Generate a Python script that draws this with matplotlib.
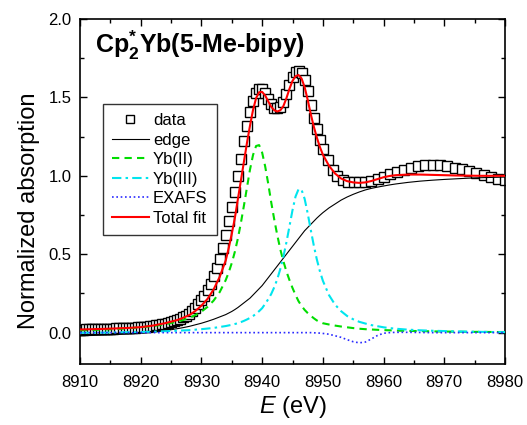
import matplotlib
matplotlib.use("Agg")
import matplotlib.pyplot as plt
from matplotlib.ticker import MultipleLocator

plt.rcParams['font.family'] = ['Liberation Sans', 'DejaVu Sans']
plt.rcParams['mathtext.fontset'] = 'custom'
plt.rcParams['mathtext.rm'] = 'Liberation Sans'
plt.rcParams['mathtext.it'] = 'Liberation Sans:italic'
plt.rcParams['mathtext.bf'] = 'Liberation Sans:bold'

# ---------------- data ----------------
E_data = [8910.0, 8910.5, 8911.0, 8911.5, 8912.0, 8912.5, 8913.0, 8913.5, 8914.0, 8914.5,
          8915.0, 8915.5, 8916.0, 8916.5, 8917.0, 8917.5, 8918.0, 8918.5, 8919.0, 8919.5,
          8920.0, 8920.5, 8921.0, 8921.5, 8922.0, 8922.5, 8923.0, 8923.5, 8924.0, 8924.5,
          8925.0, 8925.5, 8926.0, 8926.5, 8927.0, 8927.5, 8928.0, 8928.5, 8929.0, 8929.5,
          8930.0, 8930.5, 8931.0, 8931.5, 8932.0, 8932.5, 8933.0, 8933.5, 8934.0, 8934.5,
          8935.0, 8935.5, 8936.0, 8936.5, 8937.0, 8937.5, 8938.0, 8938.5, 8939.0, 8939.5,
          8940.0, 8940.5, 8941.0, 8941.5, 8942.0, 8942.5, 8943.0, 8943.5, 8944.0, 8944.5,
          8945.0, 8945.5, 8946.0, 8946.5, 8947.0, 8947.5, 8948.0, 8948.5, 8949.0, 8949.5,
          8950.0, 8950.8, 8951.6, 8952.4, 8953.3, 8954.2, 8955.1, 8956.0, 8957.0, 8958.0,
          8959.0, 8960.0, 8961.1, 8962.2, 8963.3, 8964.5, 8965.7, 8966.9, 8968.1, 8969.3,
          8970.5, 8971.7, 8972.9, 8974.1, 8975.3, 8976.5, 8977.7, 8978.9, 8980.0]
mu_data = [0.020, 0.020, 0.021, 0.021, 0.022, 0.022, 0.023, 0.023, 0.024, 0.024,
           0.025, 0.026, 0.027, 0.027, 0.028, 0.029, 0.030, 0.031, 0.032, 0.033,
           0.035, 0.037, 0.039, 0.041, 0.044, 0.047, 0.050, 0.054, 0.058, 0.063,
           0.068, 0.074, 0.080, 0.088, 0.097, 0.107, 0.120, 0.135, 0.155, 0.180,
           0.205, 0.235, 0.270, 0.310, 0.360, 0.410, 0.470, 0.540, 0.620, 0.710,
           0.800, 0.900, 1.000, 1.110, 1.220, 1.320, 1.410, 1.480, 1.530, 1.555,
           1.555, 1.530, 1.490, 1.455, 1.435, 1.430, 1.440, 1.470, 1.520, 1.580,
           1.630, 1.660, 1.670, 1.655, 1.610, 1.540, 1.450, 1.370, 1.300, 1.230,
           1.170, 1.100, 1.040, 1.000, 0.975, 0.962, 0.958, 0.958, 0.962, 0.970,
           0.982, 0.995, 1.010, 1.025, 1.040, 1.052, 1.061, 1.066, 1.068, 1.066,
           1.060, 1.052, 1.042, 1.030, 1.017, 1.004, 0.992, 0.982, 0.974]

E_fit = [8910, 8912, 8914, 8916, 8918, 8920, 8922, 8924, 8926, 8927, 8928, 8929,
         8930, 8931, 8932, 8933, 8934, 8934.5, 8935, 8935.5, 8936, 8936.5, 8937, 8937.5,
         8938, 8938.5, 8939, 8939.5, 8940, 8940.5, 8941, 8941.5, 8942, 8942.5, 8943, 8943.5,
         8944, 8944.5, 8945, 8945.5, 8946, 8946.5, 8947, 8947.5, 8948, 8948.5, 8949, 8949.5,
         8950, 8951, 8952, 8953, 8954, 8955, 8956, 8957, 8958, 8959, 8960, 8961,
         8962, 8964, 8966, 8968, 8970, 8972, 8974, 8976, 8978, 8980]

edge = [-0.020, -0.018, -0.015, -0.012, -0.008, -0.003, 0.003, 0.012, 0.025, 0.032, 0.040, 0.050,
        0.060, 0.072, 0.085, 0.100, 0.115, 0.125, 0.135, 0.147, 0.160, 0.175, 0.190, 0.205,
        0.220, 0.240, 0.260, 0.280, 0.300, 0.325, 0.350, 0.375, 0.400, 0.425, 0.450, 0.475,
        0.500, 0.525, 0.550, 0.575, 0.600, 0.625, 0.650, 0.670, 0.690, 0.710, 0.730, 0.748,
        0.765, 0.795, 0.820, 0.845, 0.865, 0.882, 0.897, 0.910, 0.920, 0.928, 0.935, 0.942,
        0.948, 0.958, 0.966, 0.972, 0.977, 0.981, 0.985, 0.988, 0.990, 0.992]

yb2 = [0.015, 0.017, 0.020, 0.023, 0.028, 0.034, 0.042, 0.053, 0.070, 0.081, 0.094, 0.112,
       0.134, 0.164, 0.204, 0.258, 0.335, 0.385, 0.444, 0.515, 0.600, 0.700, 0.810, 0.925,
       1.040, 1.133, 1.190, 1.196, 1.148, 1.060, 0.950, 0.830, 0.720, 0.620, 0.530, 0.455,
       0.390, 0.335, 0.285, 0.240, 0.200, 0.170, 0.145, 0.125, 0.108, 0.092, 0.078, 0.068,
       0.060, 0.052, 0.045, 0.039, 0.034, 0.029, 0.025, 0.022, 0.020, 0.018, 0.016, 0.015,
       0.013, 0.011, 0.010, 0.008, 0.007, 0.006, 0.005, 0.005, 0.004, 0.004]

yb3 = [-0.001, 0.000, 0.000, 0.002, 0.003, 0.004, 0.006, 0.009, 0.012, 0.014, 0.016, 0.019,
       0.022, 0.026, 0.030, 0.036, 0.042, 0.046, 0.050, 0.055, 0.060, 0.067, 0.075, 0.084,
       0.094, 0.106, 0.120, 0.137, 0.156, 0.184, 0.213, 0.247, 0.290, 0.342, 0.407, 0.485,
       0.576, 0.678, 0.781, 0.868, 0.915, 0.910, 0.853, 0.761, 0.657, 0.557, 0.468, 0.393,
       0.331, 0.240, 0.179, 0.137, 0.106, 0.085, 0.069, 0.058, 0.048, 0.041, 0.034, 0.029,
       0.025, 0.019, 0.015, 0.012, 0.010, 0.008, 0.006, 0.005, 0.004, 0.003]

exafs = [0.0, 0.0, 0.0, 0.0, 0.0, 0.0, 0.0, 0.0, 0.0, 0.0, 0.0, 0.0,
         0.0, 0.0, 0.0, 0.0, 0.0, 0.0, 0.0, 0.0, 0.0, 0.0, 0.0, 0.0,
         0.0, 0.0, 0.0, 0.0, 0.0, 0.0, 0.0, 0.0, 0.0, 0.0, 0.0, 0.0,
         0.0, 0.0, 0.0, 0.0, 0.0, 0.0, 0.0, 0.0, 0.0, -0.001, -0.002, -0.003,
         -0.005, -0.010, -0.020, -0.030, -0.045, -0.058, -0.065, -0.060, -0.040, -0.018, -0.004, 0.0,
         0.002, 0.002, 0.001, 0.0, 0.0, 0.0, 0.0, 0.0, 0.0, 0.0]

total = [0.020, 0.022, 0.024, 0.027, 0.030, 0.035, 0.045, 0.060, 0.080, 0.095, 0.112, 0.138,
         0.172, 0.215, 0.275, 0.355, 0.460, 0.540, 0.630, 0.730, 0.850, 0.970, 1.090, 1.210,
         1.320, 1.420, 1.495, 1.533, 1.535, 1.512, 1.475, 1.440, 1.418, 1.410, 1.418, 1.445,
         1.495, 1.555, 1.605, 1.635, 1.643, 1.620, 1.565, 1.485, 1.395, 1.315, 1.245, 1.185,
         1.135, 1.065, 1.015, 0.983, 0.966, 0.958, 0.955, 0.958, 0.967, 0.979, 0.991, 0.999,
         1.004, 1.008, 1.008, 1.006, 1.004, 1.002, 1.001, 1.000, 1.000, 1.000]

title = r'Cp$^{\mathbf{*}}_{\mathbf{2}}$Yb(5-Me-bipy)'
labels = ['data', 'edge', 'Yb(II)', 'Yb(III)', 'EXAFS', 'Total fit']

# ---------------- figure ----------------
fig = plt.figure(figsize=(5.27, 4.25), dpi=100)
ax = fig.add_axes([80/527, 61/425, 425/527, 345/425])

ax.plot(E_data, mu_data, linestyle='none', marker='s', markersize=7.3,
        markerfacecolor='white', markeredgecolor='black', markeredgewidth=1.0,
        label=labels[0], zorder=2)
ax.plot(E_fit, edge, color='black', lw=0.8, label=labels[1], zorder=3)
ax.plot(E_fit, yb2, color='#00dd00', lw=1.5, dashes=(3.5, 2.5), label=labels[2], zorder=3)
ax.plot(E_fit, yb3, color='#00e5ee', lw=1.5, dashes=(4.5, 2, 1.2, 2), label=labels[3], zorder=3)
ax.plot(E_fit, exafs, color='#2a2aff', lw=1.2, dashes=(1, 1.6), label=labels[4], zorder=3)
ax.plot(E_fit, total, color='red', lw=1.5, label=labels[5], zorder=4)

ax.set_xlim(8910, 8980)
ax.set_ylim(-0.2, 2.0)
ax.xaxis.set_major_locator(MultipleLocator(10))
ax.xaxis.set_minor_locator(MultipleLocator(5))
ax.yaxis.set_major_locator(MultipleLocator(0.5))
ax.yaxis.set_minor_locator(MultipleLocator(0.25))
ax.tick_params(which='both', direction='in', top=True, right=True, width=1.0, labelsize=12)
ax.tick_params(which='major', length=5)
ax.tick_params(which='minor', length=3)
ax.tick_params(axis='x', which='major', pad=8)
ax.tick_params(axis='y', which='major', pad=6)
ax.set_yticks([0.0, 0.5, 1.0, 1.5, 2.0])
ax.set_yticklabels(['0.0', '0.5', '1.0', '1.5', '2.0'])
for s in ax.spines.values():
    s.set_linewidth(1.2)

ax.set_xlabel(r'$\it{E}$ (eV)', fontsize=17, labelpad=3)
ax.set_ylabel('Normalized absorption', fontsize=17)
ax.yaxis.set_label_coords(-0.095, 0.443)

ax.text(0.035, 0.90, title, transform=ax.transAxes, fontsize=18,
        fontweight='bold', ha='left', va='baseline')

leg = ax.legend(loc='upper left', bbox_to_anchor=(0.054, 0.754), borderaxespad=0,
                fontsize=12, frameon=True, fancybox=False, edgecolor='black',
                handlelength=2.2, handletextpad=0.25, labelspacing=0.27,
                borderpad=0.55, markerscale=0.7)
leg.get_frame().set_linewidth(1.0)

fig.savefig('out.png', dpi=100)
